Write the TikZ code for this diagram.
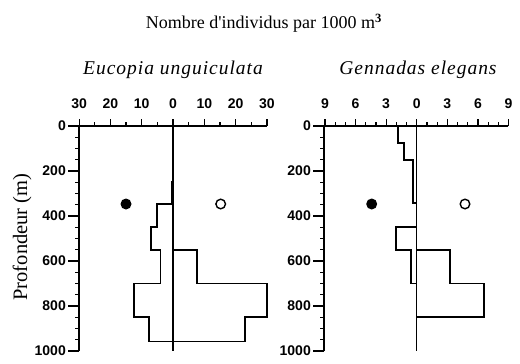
\documentclass[tikz,border=0pt]{standalone}
\usepackage{fontspec}
\setmainfont{Liberation Serif}
\newfontfamily\labfont{Liberation Sans}
\newfontfamily\subfont[LetterSpace=5]{Liberation Serif Italic}
\begin{document}
\begin{tikzpicture}[x=1pt,y=-1pt,
  hist/.style={line width=1.7pt, line join=miter},
  axline/.style={line width=1.6pt},
  tk/.style={line width=1.2pt},
  num/.style={font=\labfont\bfseries\fontsize{14}{14}\selectfont, inner sep=0pt},
  ttl/.style={font=\fontsize{18}{18}\selectfont, inner sep=0pt},
  sub/.style={font=\subfont\fontsize{19.5}{19.5}\selectfont, inner sep=0pt},
  dotfull/.style={fill=black},
  dotopen/.style={draw=black, line width=1.4pt, fill=white}]
\useasboundingbox (0,0) rectangle (520,364);
\fill[white] (0,0) rectangle (520,364);

% title
\node[ttl] (title) at (264,23) {Nombre d\textquotesingle individus par 1000 m\textsuperscript{\textbf{3}}};
\node[sub] (subA) at (173,70) {Eucopia unguiculata};
\node[sub] (subB) at (418,70) {Gennadas elegans};
\node[font=\fontsize{20.5}{20.5}\selectfont, inner sep=0pt, rotate=90] (ylab) at (22,237) {Profondeur (m)};

% ---------- left panel ----------
\draw[axline] (79,126) -- (267,126);
\draw[axline] (79,126) -- (79,351);
\foreach \v in {-30,-25,...,30} \draw[tk] ({173+\v*3.13},126) -- ({173+\v*3.13},122);
\foreach \v in {-30,-20,...,30} \draw[tk] ({173+\v*3.13},126) -- ({173+\v*3.13},119);
\foreach \v/\t in {-30/30,-20/20,-10/10,0/0,10/10,20/20,30/30}
  \node[num] (lx\t\v) at ({173+\v*3.13},104) {\t};
\foreach \d in {0,50,...,1000} \draw[tk] (79,{126+\d*0.225}) -- (75,{126+\d*0.225});
\foreach \d in {0,200,...,1000} {
  \draw[tk] (79,{126+\d*0.225}) -- (68,{126+\d*0.225});
  \node[num, anchor=east] (ly\d) at (66,{126+\d*0.225}) {\d};
}
\draw[line width=1.4pt] (173,126) -- (173,351);
\draw[hist] (173,159.75) -- (172.4,159.75) -- (172.4,182) -- (171.5,182) -- (171.5,204)
  -- (157.3,204) -- (157.3,227) -- (151,227) -- (151,249.75) -- (160.5,249.75)
  -- (160.5,283.5) -- (134,283.5) -- (134,317) -- (149,317) -- (149,341.5) -- (173,341.5);
\draw[hist] (173,249.75) -- (196.7,249.75) -- (196.7,283.5) -- (266.7,283.5)
  -- (266.7,317) -- (245,317) -- (245,341.5) -- (173,341.5);
\fill[dotfull] (126,204) circle (5.5);
\draw[dotopen] (220.7,204) circle (4.8);

% ---------- right panel ----------
\draw[axline] (324,126) -- (508,126);
\draw[axline] (324,126) -- (324,351);
\foreach \v in {-9,...,9} \draw[tk] ({416.7+\v*10.2},126) -- ({416.7+\v*10.2},122);
\foreach \v in {-9,-6,...,9} \draw[tk] ({416.7+\v*10.2},126) -- ({416.7+\v*10.2},119);
\foreach \v/\t in {-9/9,-6/6,-3/3,0/0,3/3,6/6,9/9}
  \node[num] (rx\t\v) at ({416.7+\v*10.2},104) {\t};
\foreach \d in {0,50,...,1000} \draw[tk] (324,{126+\d*0.225}) -- (320,{126+\d*0.225});
\foreach \d in {0,200,...,1000} {
  \draw[tk] (324,{126+\d*0.225}) -- (313,{126+\d*0.225});
  \node[num, anchor=east] (ry\d) at (311,{126+\d*0.225}) {\d};
}
\draw[line width=1.4pt] (416.7,126) -- (416.7,351);
\draw[hist] (397.7,126) -- (397.7,142.9) -- (404.3,142.9) -- (404.3,159.75)
  -- (413.3,159.75) -- (413.3,203) -- (416.7,203);
\draw[hist] (416.7,227) -- (395.7,227) -- (395.7,249.75) -- (411,249.75)
  -- (411,283.5) -- (416.7,283.5);
\draw[hist] (416.7,249.75) -- (450,249.75) -- (450,283.5) -- (484.3,283.5)
  -- (484.3,317) -- (416.7,317);
\fill[dotfull] (371.7,204) circle (5.5);
\draw[dotopen] (465,204) circle (4.8);
\end{tikzpicture}
\end{document}
